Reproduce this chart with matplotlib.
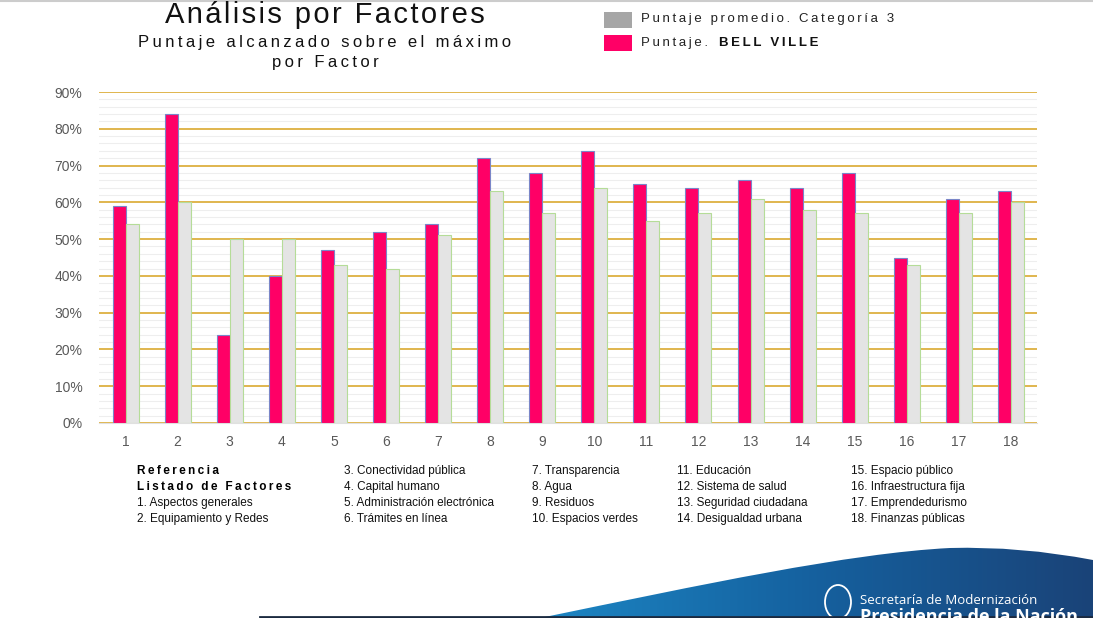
import numpy as np
import matplotlib
matplotlib.use("Agg")
import matplotlib.pyplot as plt
from matplotlib.patches import Rectangle, PathPatch, Ellipse
from matplotlib.path import Path
from matplotlib.ticker import MultipleLocator, FuncFormatter

# Data
factores = [str(i) for i in range(1, 19)]
bell_ville = [59, 84, 24, 40, 47, 52, 54, 72, 68, 74, 65, 64, 66, 64, 68, 45, 61, 63]
promedio = [54, 60, 50, 50, 43, 42, 51, 63, 57, 64, 55, 57, 61, 58, 57, 43, 57, 60]

referencias = [
    ["1. Aspectos generales", "2. Equipamiento y Redes"],
    ["3. Conectividad pública", "4. Capital humano", "5. Administración electrónica", "6. Trámites en línea"],
    ["7. Transparencia", "8. Agua", "9. Residuos", "10. Espacios verdes"],
    ["11. Educación", "12. Sistema de salud", "13. Seguridad ciudadana", "14. Desigualdad urbana"],
    ["15. Espacio público", "16. Infraestructura fija", "17. Emprendedurismo", "18. Finanzas públicas"],
]

ROJO = "#FF0066"
GRIS = "#E4E4E4"
W, H = 1093, 618
FONT = ["Liberation Sans", "DejaVu Sans"]


def spaced(s, sep="\u2009"):
    # letter spacing like in the original slide
    return sep.join(s)


fig = plt.figure(figsize=(W / 100, H / 100), dpi=100)
fig.patch.set_facecolor("white")

# main chart
ax = fig.add_axes([99 / W, 1 - 423 / H, (1037 - 99) / W, (423 - 92) / H])
x = np.arange(1, 19)
bw = 0.25
ax.bar(x - bw / 2, bell_ville, width=bw, color=ROJO, edgecolor="#7a86c8", linewidth=0.8, zorder=3)
ax.bar(x + bw / 2, promedio, width=bw, color=GRIS, edgecolor="#b5dc98", linewidth=0.8, zorder=3)

ax.set_xlim(0.49, 18.5)
ax.set_ylim(0, 90)
ax.yaxis.set_major_locator(MultipleLocator(10))
ax.yaxis.set_minor_locator(MultipleLocator(2))
ax.yaxis.set_major_formatter(FuncFormatter(lambda v, p: f"{int(v)}%"))
ax.set_xticks(x)
ax.set_xticklabels(factores)
ax.grid(axis="y", which="major", color="#DDB040", linewidth=1.3, zorder=1)
ax.grid(axis="y", which="minor", color="#EEEEEE", linewidth=0.8, zorder=0)
for s in ["top", "right", "left"]:
    ax.spines[s].set_visible(False)
ax.spines["bottom"].set_color("#E0E0E0")
ax.tick_params(axis="both", which="both", length=0, colors="#595959", labelsize=10)
for lab in ax.get_xticklabels() + ax.get_yticklabels():
    lab.set_family(FONT)
ax.tick_params(axis="x", pad=9)
ax.tick_params(axis="y", pad=12)

# titles
fig.text(325 / W, 1 - 15 / H, spaced("Análisis por Factores", "\u200a"), ha="center", va="center",
         fontsize=21, family=FONT, color="#111111")
fig.text(325 / W, 1 - 42 / H, spaced("Puntaje alcanzado sobre el máximo"),
         ha="center", va="center", fontsize=12, family=FONT, color="#111111")
fig.text(325 / W, 1 - 62 / H, spaced("por Factor"), ha="center", va="center",
         fontsize=12, family=FONT, color="#111111")

# legend
fig.patches.append(Rectangle((604 / W, 1 - 28 / H), 28 / W, 16 / H, transform=fig.transFigure,
                             facecolor="#A6A6A6", edgecolor="none"))
fig.patches.append(Rectangle((604 / W, 1 - 51 / H), 28 / W, 16 / H, transform=fig.transFigure,
                             facecolor=ROJO, edgecolor="none"))
fig.text(641 / W, 1 - 19 / H, spaced("Puntaje promedio. Categoría 3"),
         ha="left", va="center", fontsize=9.5, family=FONT, color="#222222")
fig.text(641 / W, 1 - 43 / H, spaced("Puntaje."), ha="left", va="center",
         fontsize=9.5, family=FONT, color="#222222")
fig.text(719 / W, 1 - 43 / H, spaced("BELL VILLE"), ha="left", va="center",
         fontsize=9.5, family=FONT, weight="bold", color="#111111")

# reference list
fig.text(137 / W, 1 - 471 / H, spaced("Referencia"), ha="left", va="center",
         fontsize=8.5, weight="bold", family=FONT)
fig.text(137 / W, 1 - 487 / H, spaced("Listado de Factores"), ha="left", va="center",
         fontsize=8.5, weight="bold", family=FONT)
cols = [137, 344, 532, 677, 851]
for ci, items in enumerate(referencias):
    start = 2 if ci == 0 else 0
    for ri, txt in enumerate(items):
        fig.text(cols[ci] / W, 1 - (471 + 16 * (ri + start)) / H, txt, ha="left", va="center",
                 fontsize=8.5, family=FONT, color="#111111")

# blue swoosh at bottom right
deco = fig.add_axes([0, 0, 1, 1], zorder=-1)
deco.set_xlim(0, W)
deco.set_ylim(H, 0)
deco.axis("off")
verts = [(540, 618), (700, 585), (850, 553), (950, 548), (1020, 546), (1093, 560),
         (1093, 618), (540, 618)]
codes = [Path.MOVETO, Path.CURVE4, Path.CURVE4, Path.CURVE4, Path.CURVE3, Path.CURVE3,
         Path.LINETO, Path.CLOSEPOLY]
patch = PathPatch(Path(verts, codes), facecolor="none", edgecolor="none")
deco.add_patch(patch)
grad = np.linspace(0, 1, 256).reshape(1, -1)
cmap = matplotlib.colors.LinearSegmentedColormap.from_list("az", ["#1c86c4", "#15609e", "#1a4378"])
im = deco.imshow(grad, extent=[540, 1093, 618, 540], cmap=cmap, aspect="auto")
im.set_clip_path(patch)
deco.plot([260, 1093], [616.5, 616.5], color="#1b2a40", linewidth=2)
deco.plot([0, 1093], [1, 1], color="#cccccc", linewidth=1.5)
deco.add_patch(Ellipse((838, 602), 26, 34, facecolor="none", edgecolor="white", linewidth=1.3))
deco.text(860, 600, "Secretaría de Modernización", color="white", fontsize=9.5,
          ha="left", va="center", family="Open Sans")
deco.text(860, 617, "Presidencia de la Nación", color="white", fontsize=13,
          ha="left", va="center", family="Open Sans", weight="bold")

fig.savefig("out.png", dpi=100)
